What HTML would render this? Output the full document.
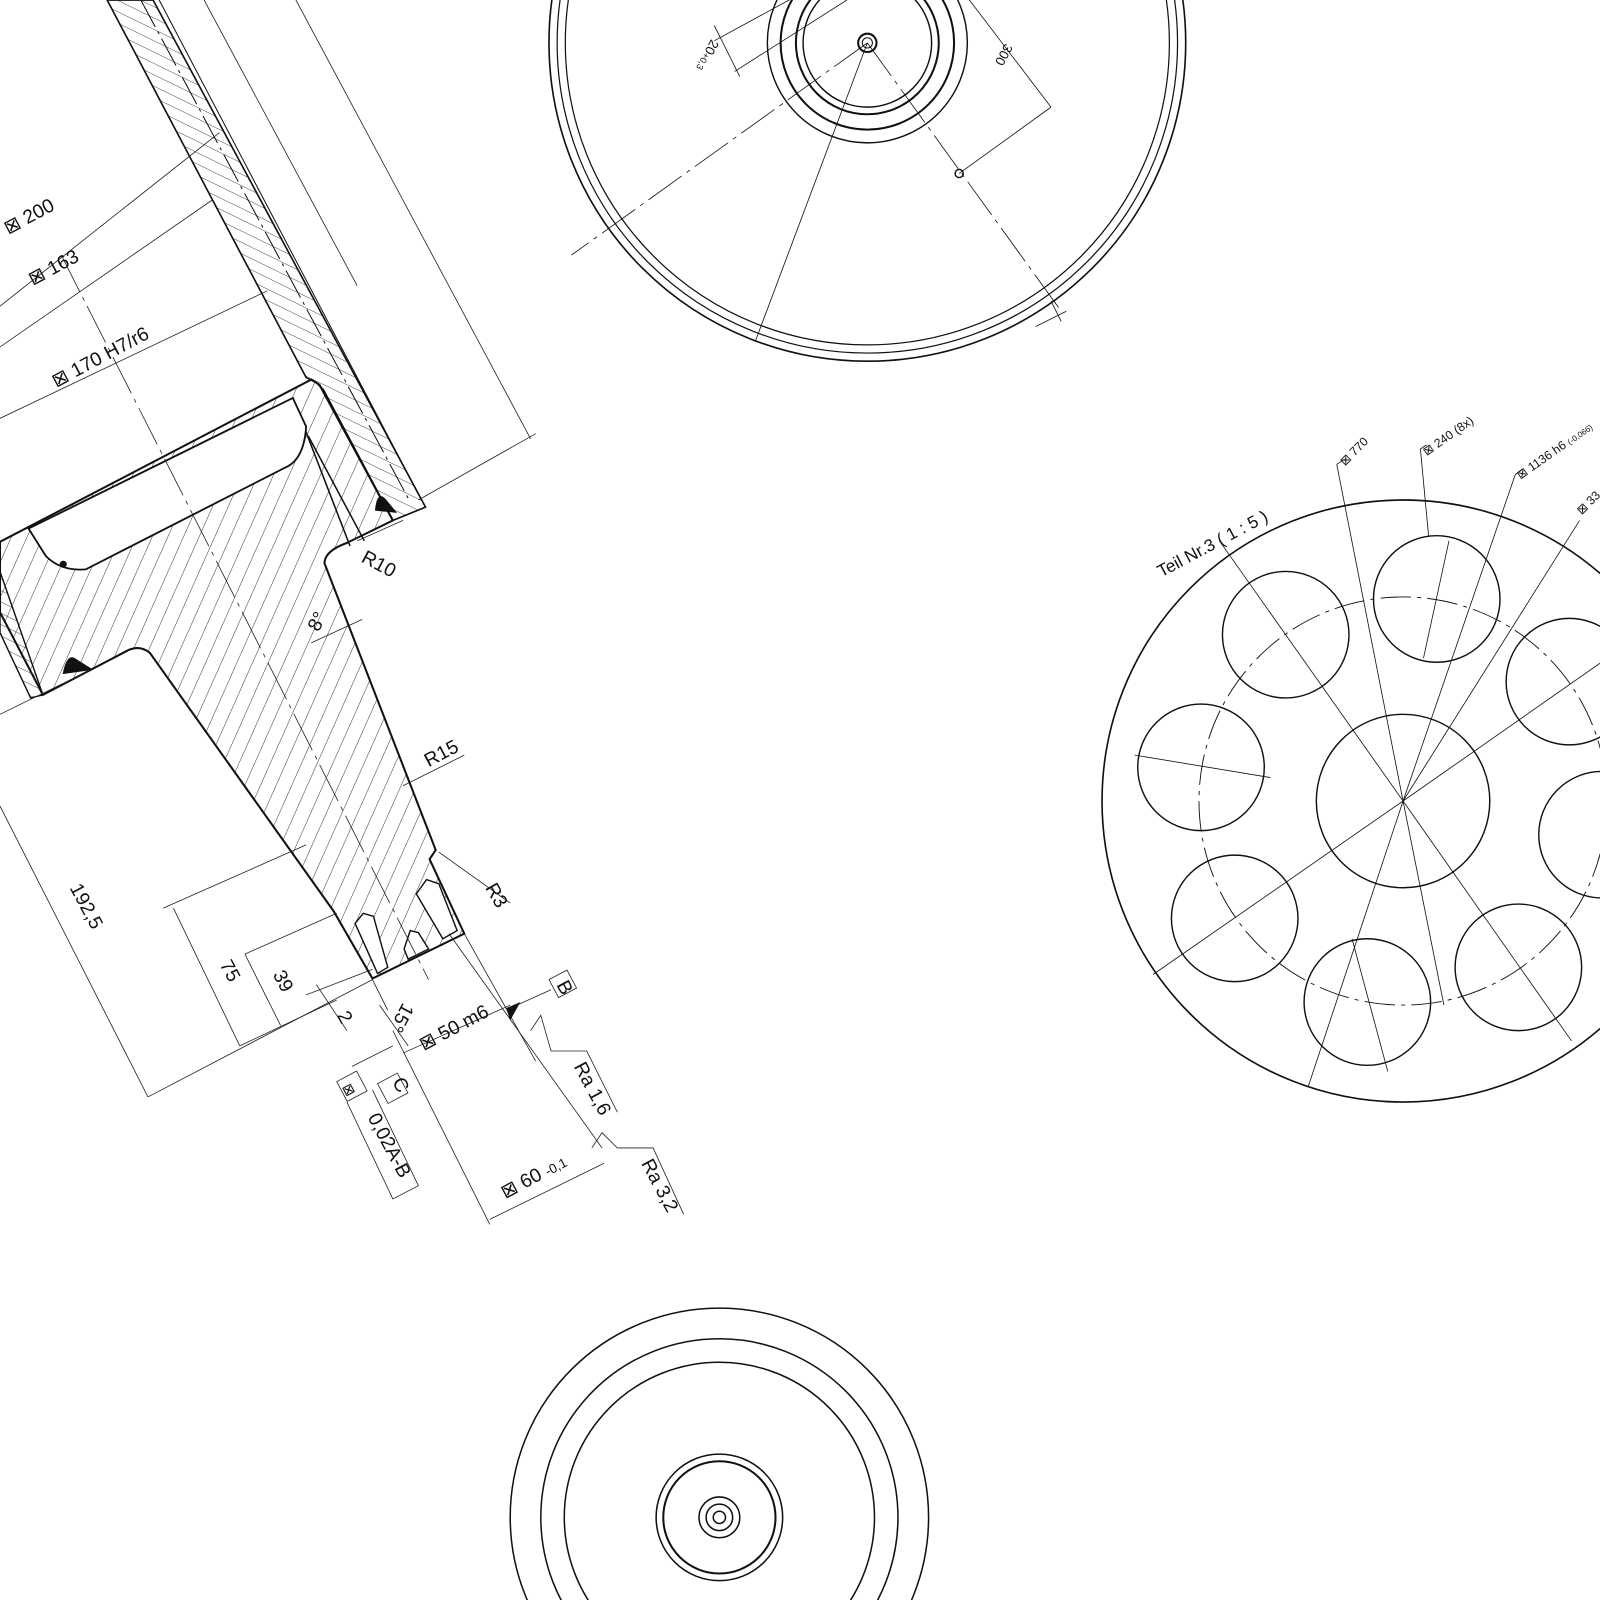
<!DOCTYPE html>
<html><head><meta charset="utf-8"><style>
html,body{margin:0;padding:0;background:#fff;width:1600px;height:1600px;overflow:hidden}
svg{display:block}
text{font-family:"Liberation Sans","DejaVu Sans",sans-serif;fill:#111}
</style></head><body>
<svg width="1600" height="1600" viewBox="0 0 1568 1568" xmlns="http://www.w3.org/2000/svg">
<defs>
<pattern id="h1" width="14" height="14" patternUnits="userSpaceOnUse" patternTransform="rotate(24)">
<line x1="0" y1="0" x2="0" y2="14" stroke="#222" stroke-width="0.9"/></pattern>
<pattern id="h2" width="10" height="10" patternUnits="userSpaceOnUse" patternTransform="rotate(-64)">
<line x1="0" y1="0" x2="0" y2="10" stroke="#222" stroke-width="0.8"/></pattern>
</defs>
<rect width="1568" height="1568" fill="#fff"/>

<!-- ===== LEFT SECTION ===== -->
<g stroke="#111" fill="none">
<!-- tube upper hatched wall -->
<polygon points="105,0 150,0 417,497 385,510 317,382 310,375 300,370" fill="url(#h2)" stroke-width="1.6"/>
<line x1="138" y1="0" x2="402" y2="492" stroke-width="1" stroke-dasharray="30,5,3,5"/>
<line x1="156" y1="0" x2="412" y2="488" stroke-width="1"/>
<!-- flange hatched -->
<path d="M0,531 L305,372 L313,377 L385,510 L340,532 Q318,540 318,552 L427,833 L421,842 L455,915 L365,959 L327,893 L280,827 L147,640 Q138,632 126,637 L42,681 L0,600 Z" fill="url(#h1)" stroke-width="2"/>
<line x1="313" y1="377" x2="385" y2="510" stroke-width="1.8"/>
<line x1="287" y1="390" x2="343" y2="535" stroke-width="1.5"/>
<line x1="302" y1="427" x2="357" y2="530" stroke-width="1.5"/>
<!-- cavity -->
<path d="M28,518 L287,390 L300,418 Q298,450 280,458 L84,558 Q60,560 45,545 Z" fill="#fff" stroke-width="1.8"/>
<!-- left tube below -->
<polygon points="0,560 42,681 30,684 0,620" fill="url(#h2)" stroke-width="1.4"/>
<!-- welds -->
<path d="M368,500 Q370,480 378,490 L388,502 Z" fill="#111"/>
<path d="M62,660 Q66,640 74,646 L90,656 Z" fill="#111"/>
<circle cx="62" cy="553" r="3" fill="#111"/>
<!-- holes at bottom -->
<g fill="#fff" stroke-width="1.4">
<polygon points="348,905 356,895 366,898 380,948 370,954"/>
<polygon points="408,876 418,862 430,866 448,912 434,920"/>
<polygon points="396,930 402,912 410,914 420,930 400,940"/>
</g>
</g>

<!-- dimension/center lines left -->
<g stroke="#222" stroke-width="0.8" fill="none">
<line x1="290" y1="0" x2="520" y2="430"/>
<line x1="200" y1="0" x2="350" y2="280"/>
<line x1="0" y1="300" x2="215" y2="130"/>
<line x1="0" y1="340" x2="208" y2="196"/>
<line x1="0" y1="410" x2="262" y2="285"/>
<line x1="410" y1="490" x2="525" y2="425"/>
<line x1="60" y1="250" x2="420" y2="960" stroke-dasharray="40,6,4,6"/>
<line x1="0" y1="700" x2="90" y2="656"/>
<line x1="0" y1="790" x2="145" y2="1075"/>
<line x1="145" y1="1075" x2="365" y2="960"/>
<line x1="160" y1="890" x2="300" y2="828"/>
<line x1="170" y1="890" x2="235" y2="1025"/>
<line x1="235" y1="1025" x2="330" y2="980"/>
<line x1="240" y1="935" x2="330" y2="895"/>
<line x1="240" y1="935" x2="275" y2="1005"/>
<line x1="310" y1="965" x2="340" y2="1010"/>
<line x1="300" y1="975" x2="365" y2="950"/>
<line x1="395" y1="510" x2="350" y2="530"/>
<line x1="305" y1="630" x2="355" y2="607"/>
<line x1="395" y1="770" x2="455" y2="740"/>
<line x1="430" y1="835" x2="500" y2="885"/>
<line x1="365" y1="960" x2="380" y2="990"/>
<line x1="372" y1="985" x2="400" y2="1025"/>
<line x1="395" y1="1032" x2="500" y2="985"/>
<line x1="385" y1="1010" x2="480" y2="1200"/>
<line x1="455" y1="915" x2="525" y2="1040"/>
<line x1="440" y1="915" x2="590" y2="1125"/>
<line x1="480" y1="1195" x2="592" y2="1140"/>
<line x1="500" y1="988" x2="540" y2="970"/>
<polyline points="520,1010 530,995 540,1030 575,1030 605,1090"/>
<polyline points="580,1125 590,1110 605,1125 640,1125 670,1190"/>
<polyline points="345,1045 385,1025"/>
<rect x="0" y="0" width="22" height="22" transform="translate(330,1060) rotate(-28)"/>
<rect x="0" y="0" width="22" height="22" transform="translate(370,1062) rotate(-28)"/>
<rect x="0" y="0" width="20" height="20" transform="translate(538,960) rotate(-28)"/>
<polyline points="340,1080 385,1175 410,1162 365,1068"/>
</g>
<polygon points="496,988 510,982 500,1000" fill="#111"/>
<g font-size="19">
<text transform="translate(8,230) rotate(-28)">⊠ 200</text>
<text transform="translate(32,280) rotate(-28)">⊠ 163</text>
<text transform="translate(55,380) rotate(-28)">⊠ 170 H7/r6</text>
<text transform="translate(353,550) rotate(28)">R10</text>
<text transform="translate(312,620) rotate(-62)">8°</text>
<text transform="translate(420,752) rotate(-28)">R15</text>
<text transform="translate(475,870) rotate(60)">R3</text>
<text transform="translate(68,870) rotate(62)">192,5</text>
<text transform="translate(215,945) rotate(62)">75</text>
<text transform="translate(267,955) rotate(62)">39</text>
<text transform="translate(330,995) rotate(62)">2</text>
<text transform="translate(395,982) rotate(118)">15°</text>
<text transform="translate(415,1030) rotate(-28)">⊠ 50 m6</text>
<text transform="translate(545,965) rotate(62)">B</text>
<text transform="translate(384,1060) rotate(62)">C</text>
<text transform="translate(335,1065) rotate(62)" font-size="14">⊠</text>
<text transform="translate(360,1095) rotate(62)">0,02A-B</text>
<text transform="translate(562,1045) rotate(62)">Ra 1,6</text>
<text transform="translate(628,1140) rotate(62)">Ra 3,2</text>
<text transform="translate(495,1175) rotate(-28)">⊠ 60 <tspan font-size="13">-0,1</tspan></text>
</g>

<!-- ===== TOP CIRCLE ===== -->
<g stroke="#111" fill="none">
<circle cx="850" cy="42" r="312" stroke-width="1.6"/>
<circle cx="850" cy="42" r="304" stroke-width="1.2"/>
<circle cx="850" cy="42" r="296" stroke-width="1.2"/>
<circle cx="850" cy="42" r="98" stroke-width="1.4"/>
<circle cx="850" cy="42" r="85" stroke-width="2"/>
<circle cx="850" cy="42" r="70" stroke-width="2"/>
<circle cx="850" cy="42" r="63" stroke-width="1.4"/>
<circle cx="850" cy="42" r="9" stroke-width="2"/>
<circle cx="850" cy="42" r="5" stroke-width="1"/>
<circle cx="940" cy="170" r="4" stroke-width="1.4"/>
<g stroke-width="0.8">
<line x1="850" y1="42" x2="1040" y2="305" stroke-dasharray="40,6,4,6"/>
<line x1="850" y1="42" x2="560" y2="250" stroke-dasharray="40,6,4,6"/>
<line x1="850" y1="42" x2="740" y2="335"/>
<line x1="940" y1="170" x2="1030" y2="105"/>
<line x1="950" y1="0" x2="1030" y2="105"/>
<line x1="700" y1="40" x2="810" y2="-20"/>
<line x1="720" y1="70" x2="830" y2="0"/>
<line x1="700" y1="25" x2="725" y2="75"/>
<line x1="1015" y1="320" x2="1045" y2="305"/>
<line x1="1030" y1="295" x2="1040" y2="315"/>
</g>
</g>
<text transform="translate(697,38) rotate(118)" font-size="13">20<tspan font-size="9">+0,3</tspan></text>
<text transform="translate(985,42) rotate(118)" font-size="13">300</text>

<!-- ===== RIGHT CIRCLE ===== -->
<g stroke="#111" fill="none">
<circle cx="1375" cy="785" r="295" stroke-width="1.6"/>
<circle cx="1375" cy="785" r="85" stroke-width="1.4"/>
<circle cx="1375" cy="785" r="200" stroke-width="0.9" stroke-dasharray="30,6,4,6"/>
<g stroke-width="1.4">
<circle cx="1260" cy="622" r="62"/><circle cx="1408" cy="587" r="62"/>
<circle cx="1538" cy="668" r="62"/><circle cx="1570" cy="818" r="62"/>
<circle cx="1488" cy="948" r="62"/><circle cx="1340" cy="982" r="62"/>
<circle cx="1210" cy="900" r="62"/><circle cx="1177" cy="752" r="62"/>
</g>
<g stroke-width="0.8">
<line x1="1375" y1="785" x2="1195" y2="530"/>
<line x1="1375" y1="785" x2="1310" y2="455"/>
<line x1="1310" y1="455" x2="1318" y2="450"/>
<line x1="1375" y1="785" x2="1282" y2="1065"/>
<line x1="1375" y1="785" x2="1130" y2="955"/>
<line x1="1375" y1="785" x2="1568" y2="650"/>
<line x1="1375" y1="785" x2="1540" y2="1020"/>
<line x1="1375" y1="785" x2="1485" y2="465"/>
<line x1="1485" y1="465" x2="1492" y2="460"/>
<line x1="1375" y1="785" x2="1548" y2="510"/>
<line x1="1392" y1="440" x2="1400" y2="525"/>
<line x1="1392" y1="440" x2="1398" y2="436"/>
<line x1="1375" y1="785" x2="1415" y2="985"/>
<line x1="1112" y1="740" x2="1245" y2="762"/>
<line x1="1420" y1="530" x2="1395" y2="645"/>
<line x1="1325" y1="920" x2="1360" y2="1050"/>
</g>
</g>
<g font-size="12">
<text transform="translate(1318,457) rotate(-45)">⊠ 770</text>
<text transform="translate(1398,447) rotate(-35)">⊠ 240 (8x)</text>
<text transform="translate(1490,470) rotate(-35)">⊠ 1136 h6 <tspan font-size="8">(-0,066)</tspan></text>
<text transform="translate(1550,505) rotate(-45)">⊠ 33</text>
</g>
<text transform="translate(1138,566) rotate(-28)" font-size="17">Teil Nr.3 ( 1 : 5 )</text>

<!-- ===== BOTTOM CIRCLE ===== -->
<g stroke="#111" fill="none" stroke-width="1.5">
<circle cx="705" cy="1487" r="205"/>
<circle cx="705" cy="1487" r="175"/>
<circle cx="705" cy="1487" r="152"/>
<circle cx="705" cy="1487" r="62"/>
<circle cx="705" cy="1487" r="55" stroke-width="2"/>
<circle cx="705" cy="1487" r="20"/>
<circle cx="705" cy="1487" r="13"/>
<circle cx="705" cy="1487" r="6"/>
</g>
</svg>
</body></html>
